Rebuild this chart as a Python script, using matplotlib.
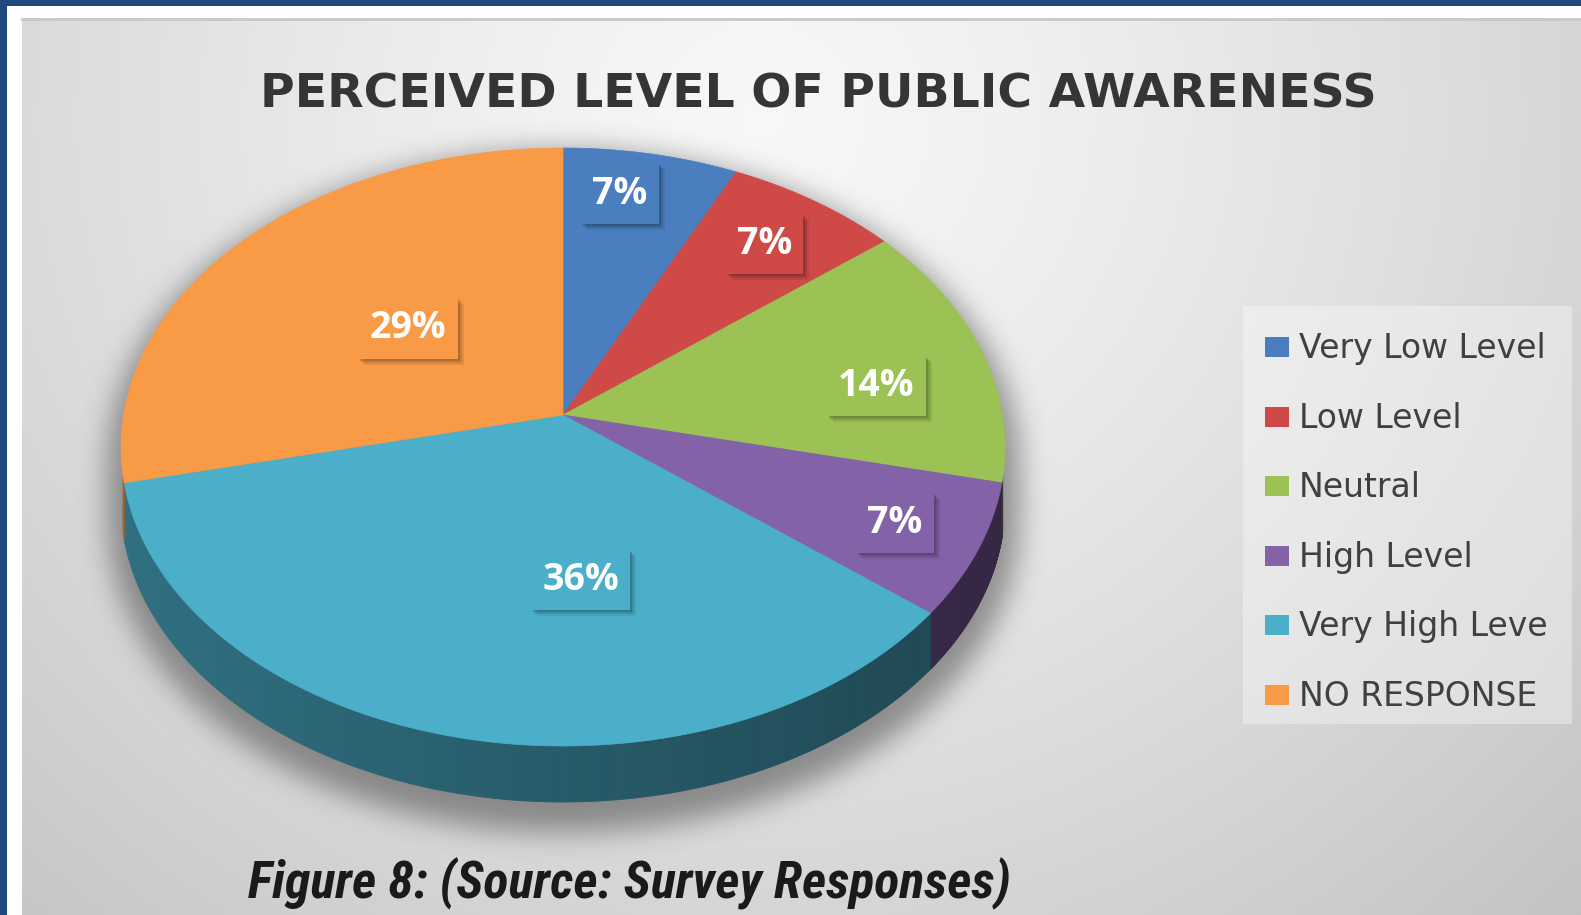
import numpy as np
import matplotlib
matplotlib.use("Agg")
import matplotlib.pyplot as plt
from matplotlib.patches import Rectangle, Polygon
from matplotlib.collections import PolyCollection
from matplotlib import font_manager
import matplotlib.colors as mcolors

# ---------------------------------------------------------------- data
CATEGORIES = ["Very Low Level", "Low Level", "Neutral", "High Level",
              "Very High Leve", "NO RESPONSE"]
RESPONSES = [1, 1, 2, 1, 5, 4]          # survey counts (14 respondents)
COLORS = ["#4a7ebf", "#cf4a47", "#9cc154", "#8462a8", "#4bafca", "#f99a46"]
TITLE = "PERCEIVED LEVEL OF PUBLIC AWARENESS"
CAPTION = "Figure 8: (Source: Survey Responses)"

# label placement inside each slice: angular nudge (deg) and radial fraction
LABEL_NUDGE = [-3, 0, 5, 0, -17, 1]
LABEL_RADIUS = [0.84, 0.80, 0.73, 0.80, 0.50, 0.49]


def pick_font(candidates):
    for name in candidates:
        try:
            font_manager.findfont(name, fallback_to_default=False)
            return name
        except Exception:
            continue
    return "DejaVu Sans"


SANS = pick_font(["Open Sans", "Lato", "DejaVu Sans"])
NARROW = pick_font(["Roboto Condensed", "Liberation Sans Narrow", "Open Sans"])

# ---------------------------------------------------------------- canvas
W, H = 1581, 915
fig = plt.figure(figsize=(W / 100, H / 100), dpi=100)
fig.patch.set_facecolor("white")
ax = fig.add_axes([0, 0, 1, 1])
ax.axis("off")
ax.set_xlim(0, W)
ax.set_ylim(H, 0)

# outer frame
ax.add_patch(Rectangle((0, 0), W, 6, fc="#1f497d", ec="none", zorder=0))
ax.add_patch(Rectangle((0, 0), 7, H, fc="#1f497d", ec="none", zorder=0))

# grey panel with a soft radial gradient
PX0, PY0 = 22, 18
yy, xx = np.mgrid[PY0:H, PX0:W].astype(float)
dist = np.hypot(xx - 760, (yy - 120) * 1.05)
val = 0.97 - 0.19 * (dist / 1100.0) ** 1.3
val = np.clip(val, 0.74, 0.975)
panel = np.dstack([val, val, val])
ax.imshow(panel, extent=[PX0, W, H, PY0], aspect="auto", zorder=1,
          interpolation="bilinear")
ax.plot([PX0, W], [PY0 + 1, PY0 + 1], color="#c8c8c8", lw=2, zorder=1.5)

# ---------------------------------------------------------------- pie geometry
CX, CY, A, B = 563.0, 447.0, 442.0, 299.0
APX, APY = 563.0, 415.0
DEPTH = 56.0
K = B / A


def rim(phi_deg):
    """Point on the rim of the top face for a plane angle (clockwise from top)."""
    phi = np.radians(np.asarray(phi_deg, dtype=float))
    ux, uy = np.sin(phi), -K * np.cos(phi)
    dx, dy = APX - CX, APY - CY
    a = (ux / A) ** 2 + (uy / B) ** 2
    b = 2 * (dx * ux / A ** 2 + dy * uy / B ** 2)
    c = (dx / A) ** 2 + (dy / B) ** 2 - 1
    t = (-b + np.sqrt(b * b - 4 * a * c)) / (2 * a)
    return APX + t * ux, APY + t * uy


def blur1d(a, r, axis):
    a = np.moveaxis(a, axis, 0)
    p = np.pad(a, ((r + 1, r), (0, 0)), mode="edge")
    c = np.cumsum(p, axis=0)
    out = (c[2 * r + 1:] - c[:-(2 * r + 1)]) / (2 * r + 1)
    return np.moveaxis(out, 0, axis)


# drop shadow under the pie
gy, gx = np.mgrid[0:H, 0:W].astype(float)
sh_dy, grow = 16.0, 14.0
top = ((gx - CX) / (A + grow)) ** 2 + ((gy - CY - sh_dy) / (B + grow)) ** 2 <= 1
bot = ((gx - CX) / (A + grow)) ** 2 + ((gy - CY - DEPTH - sh_dy) / (B + grow)) ** 2 <= 1
mid = (np.abs(gx - CX) <= A + grow) & (gy >= CY + sh_dy) & (gy <= CY + DEPTH + sh_dy)
mask = (top | bot | mid).astype(float)
for _ in range(3):
    mask = blur1d(mask, 13, 0)
    mask = blur1d(mask, 13, 1)
shadow = np.zeros((H, W, 4))
shadow[..., :3] = 0.28
shadow[..., 3] = 0.55 * mask
ax.imshow(shadow, extent=[0, W, H, 0], aspect="auto", zorder=2,
          interpolation="bilinear")

total = float(sum(RESPONSES))
fracs = np.array(RESPONSES) / total
bounds = np.concatenate([[0.0], np.cumsum(fracs) * 360.0])

# extruded side walls (front half only)
side_polys, side_cols = [], []
for i, col in enumerate(COLORS):
    phis = np.linspace(bounds[i], bounds[i + 1], 240)
    rx, ry = rim(phis)
    base = np.array(mcolors.to_rgb(col))
    for j in range(len(phis) - 1):
        if (ry[j] + ry[j + 1]) / 2 < CY + 30:
            continue
        quad = [(rx[j], ry[j]), (rx[j + 1], ry[j + 1]),
                (rx[j + 1], ry[j + 1] + DEPTH), (rx[j], ry[j] + DEPTH)]
        xm = ((rx[j] + rx[j + 1]) / 2 - (CX - A)) / (2 * A)
        shade = 0.64 - 0.24 * xm
        side_polys.append(quad)
        side_cols.append(np.clip(base * shade, 0, 1))
ax.add_collection(PolyCollection(side_polys, facecolors=side_cols,
                                 edgecolors=side_cols, linewidths=0.6, zorder=3))

# top face wedges
for i, col in enumerate(COLORS):
    phis = np.linspace(bounds[i], bounds[i + 1], 200)
    rx, ry = rim(phis)
    pts = np.column_stack([np.r_[APX, rx], np.r_[APY, ry]])
    ax.add_patch(Polygon(pts, closed=True, fc=col, ec=col, lw=0.5, zorder=4))

# percentage labels in boxes
label_texts = []
for i, col in enumerate(COLORS):
    phi_mid = (bounds[i] + bounds[i + 1]) / 2 + LABEL_NUDGE[i]
    ex, ey = rim(phi_mid)
    lx = APX + LABEL_RADIUS[i] * (ex - APX)
    ly = APY + LABEL_RADIUS[i] * (ey - APY)
    txt = f"{fracs[i] * 100:.0f}%"
    t = ax.text(lx, ly, txt, fontsize=27, fontweight="bold", family=SANS,
                color="white", ha="center", va="center", zorder=7,
                bbox=dict(boxstyle="square,pad=0.3", fc=col, ec="none"))
    label_texts.append((t, col))

# soft drop shadow behind each label box
fig.canvas.draw()
renderer = fig.canvas.get_renderer()
inv = ax.transData.inverted()
for t, col in label_texts:
    ext = t.get_bbox_patch().get_window_extent(renderer)
    (x0, y0), (x1, y1) = inv.transform([[ext.x0, ext.y0], [ext.x1, ext.y1]])
    xa, xb = min(x0, x1), max(x0, x1)
    ya, yb = min(y0, y1), max(y0, y1)
    dark = tuple(np.array(mcolors.to_rgb(col)) * 0.5)
    for off, al in [(2, 0.35), (4, 0.25), (6, 0.15)]:
        ax.add_patch(Rectangle((xa + off, ya + off), xb - xa, yb - ya,
                               fc=dark, ec="none", alpha=al, zorder=6))

# ---------------------------------------------------------------- title
ax.text(818, 107, TITLE, fontsize=34, fontweight="bold", family="DejaVu Sans",
        color="#353535", ha="center", va="baseline", zorder=7)

# ---------------------------------------------------------------- legend
ax.add_patch(Rectangle((1243, 306), 329, 418, fc="white", ec="none",
                       alpha=0.35, zorder=3))
for i, (name, col) in enumerate(zip(CATEGORIES, COLORS)):
    yc = 347 + 69.6 * i
    ax.add_patch(Rectangle((1265, yc - 10), 24, 20, fc=col, ec="none", zorder=4))
    ax.text(1299, yc + 11, name, fontsize=23.8, family="DejaVu Sans", color="#404040",
            ha="left", va="baseline", zorder=5)

# ---------------------------------------------------------------- caption
ax.text(248, 897, CAPTION, fontsize=37.5, fontweight="bold", style="italic",
        family=NARROW, color="#1a1a1a", ha="left", va="baseline", zorder=7)

ax.set_xlim(0, W)
ax.set_ylim(H, 0)
fig.savefig("out.png", dpi=100)
